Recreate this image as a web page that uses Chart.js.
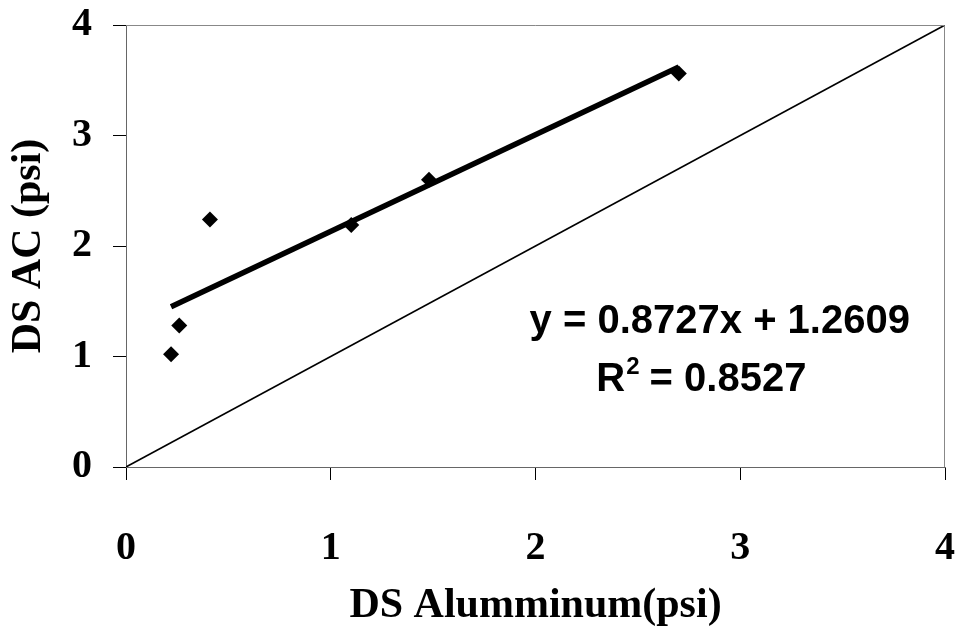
<!DOCTYPE html>
<html>
<head>
<meta charset="utf-8">
<script src="https://cdn.jsdelivr.net/npm/chart.js@4/dist/chart.umd.min.js"></script>
<style>
  html, body { margin: 0; padding: 0; background: #fff; }
  #wrap { width: 957px; height: 629px; position: relative; }
</style>
</head>
<body>
<div id="wrap"><canvas id="c" width="957" height="629"></canvas></div>
<script>
// ---- data ----
const dsAluminum = [0.22, 0.26, 0.41, 1.10, 1.48, 2.70];
const dsAC       = [1.02, 1.28, 2.24, 2.19, 2.60, 3.56];
const trendX = [0.22, 2.70];
const trendY = [1.45, 3.62];
const equalityX = [0, 4];
const equalityY = [0, 4];
const axisTicks = [0, 1, 2, 3, 4];
const equationText = "y = 0.8727x + 1.2609";
const r2Value = "0.8527";
const xTitle = "DS Alumminum(psi)";
const yTitle = "DS AC (psi)";

const toPts = (xs, ys) => xs.map((x, i) => ({ x: x, y: ys[i] }));

const serifBold = { family: "'Liberation Serif', 'Times New Roman', serif", weight: 'bold' };

const noPad = s => { s.paddingTop = 0; s.paddingBottom = 0; s.paddingLeft = 0; s.paddingRight = 0; };

const framePlugin = {
  id: 'frame',
  afterDatasetsDraw(chart) {
    const { ctx, chartArea: a, scales } = chart;
    ctx.save();
    // top and right box lines
    ctx.strokeStyle = '#888';
    ctx.lineWidth = 1;
    ctx.beginPath();
    ctx.moveTo(a.left, a.top + 0.5);
    ctx.lineTo(a.right - 0.5, a.top + 0.5);
    ctx.lineTo(a.right - 0.5, a.bottom);
    ctx.stroke();

    // regression equation
    ctx.fillStyle = '#000';
    ctx.textBaseline = 'middle';
    const bigFont = "bold 40px 'Liberation Sans', Arial, sans-serif";
    const supFont = "bold 24px 'Liberation Sans', Arial, sans-serif";
    ctx.font = bigFont;
    ctx.textAlign = 'center';
    const x1 = scales.x.getPixelForValue(2.90);
    const y1 = scales.y.getPixelForValue(1.31);
    ctx.fillText(equationText, x1, y1);

    const x2c = scales.x.getPixelForValue(2.81);
    const y2 = scales.y.getPixelForValue(0.79);
    const partR = "R";
    const partRest = " = " + r2Value;
    ctx.font = bigFont;
    const wR = ctx.measureText(partR).width;
    const wRest = ctx.measureText(partRest).width;
    ctx.font = supFont;
    const wSup = ctx.measureText("2").width;
    const total = wR + wSup + wRest;
    let xs = x2c - total / 2;
    ctx.textAlign = 'left';
    ctx.font = bigFont;
    ctx.fillText(partR, xs, y2);
    ctx.font = supFont;
    ctx.fillText("2", xs + wR + 1, y2 - 12);
    ctx.font = bigFont;
    ctx.fillText(partRest, xs + wR + wSup, y2);
    ctx.restore();
  }
};

new Chart(document.getElementById('c'), {
  type: 'scatter',
  data: {
    datasets: [
      {
        label: 'y = x',
        type: 'line',
        data: toPts(equalityX, equalityY),
        borderColor: '#000',
        borderWidth: 1.6,
        pointRadius: 0,
        fill: false,
        tension: 0,
        order: 3
      },
      {
        label: 'Linear fit',
        type: 'line',
        data: toPts(trendX, trendY),
        borderColor: '#000',
        borderWidth: 5.5,
        pointRadius: 0,
        fill: false,
        tension: 0,
        order: 2
      },
      {
        label: 'DS AC',
        data: toPts(dsAluminum, dsAC),
        pointStyle: 'rectRot',
        pointRadius: 8,
        pointHoverRadius: 8,
        backgroundColor: '#000',
        borderColor: '#000',
        borderWidth: 0,
        order: 1
      }
    ]
  },
  options: {
    responsive: false,
    animation: false,
    events: [],
    layout: { padding: { top: 25, right: 12, left: 0, bottom: 0 } },
    plugins: {
      legend: { display: false },
      tooltip: { enabled: false }
    },
    scales: {
      x: {
        type: 'linear',
        min: 0, max: 4,
        afterBuildTicks: s => { s.ticks = axisTicks.map(v => ({ value: v })); },
        afterFit: s => { s.height = 162; noPad(s); },
        ticks: {
          color: '#000',
          padding: 45,
          font: Object.assign({ size: 40 }, serifBold),
          maxRotation: 0
        },
        grid: { drawOnChartArea: false, drawTicks: true, tickLength: 13, color: '#000', tickColor: '#000' },
        border: { display: true, color: '#666', width: 1 },
        title: {
          display: true,
          text: xTitle,
          color: '#000',
          font: Object.assign({ size: 42, lineHeight: 1 }, serifBold),
          padding: { top: 0, bottom: 2 }
        }
      },
      y: {
        type: 'linear',
        min: 0, max: 4,
        afterBuildTicks: s => { s.ticks = axisTicks.map(v => ({ value: v })); },
        afterFit: s => { s.width = 126; noPad(s); },
        ticks: {
          color: '#000',
          padding: 21,
          font: Object.assign({ size: 40 }, serifBold)
        },
        grid: { drawOnChartArea: false, drawTicks: true, tickLength: 13, color: '#000', tickColor: '#000' },
        border: { display: true, color: '#666', width: 1 },
        title: {
          display: true,
          text: yTitle,
          color: '#000',
          font: Object.assign({ size: 42, lineHeight: 1 }, serifBold),
          padding: { top: 8, bottom: 0 }
        }
      }
    }
  },
  plugins: [framePlugin]
});
</script>
</body>
</html>
